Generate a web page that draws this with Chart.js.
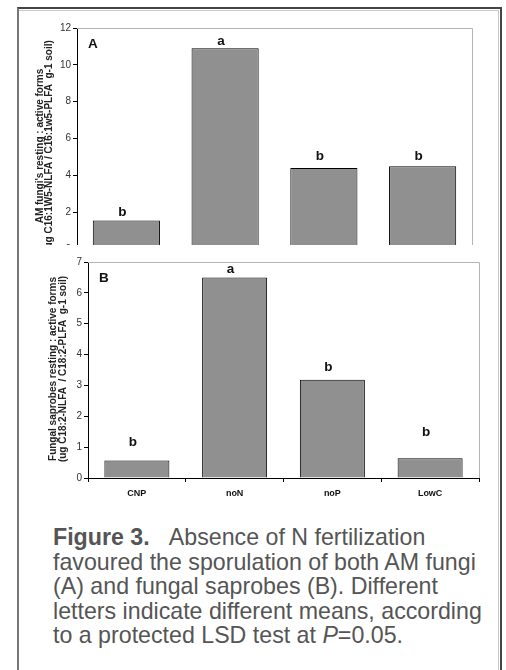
<!DOCTYPE html>
<html>
<head>
<meta charset="utf-8">
<script src="https://cdn.jsdelivr.net/npm/chart.js@4.4.1/dist/chart.umd.min.js"></script>
<style>
  html, body { margin: 0; padding: 0; background: #fff; }
  #page { position: relative; width: 506px; height: 670px; overflow: hidden; background: #fff; font-family: 'Liberation Sans', Arial, sans-serif; }
  #frame { position: absolute; z-index: 5; left: 17px; top: 7px; width: 481px; height: 680px; border-top: 2px solid #444; border-right: 2px solid #444; border-left: 2px solid #777; pointer-events: none; }
  #frameInner { position: absolute; left: 0; top: 1px; right: 1px; bottom: 0; border-top: 1px solid #c8c8c8; border-right: 1px solid #c8c8c8; }
  #wrapA { position: absolute; left: 0; top: 0; width: 506px; height: 245px; overflow: hidden; }
  #wrapB { position: absolute; left: 0; top: 245px; width: 506px; height: 265px; background: #fff; }
  #caption { position: absolute; left: 53px; top: 525px; width: 442px; font-size: 23.2px; line-height: 24.5px; color: #555; }
  #caption b { font-weight: bold; margin-right: 14px; }
</style>
</head>
<body>
<div id="page">
  <div id="frame"><div id="frameInner"></div></div>
  <div id="wrapA"><canvas id="chartA" width="506" height="279"></canvas></div>
  <div id="wrapB"><canvas id="chartB" width="506" height="265"></canvas></div>
  <div id="caption"><b>Figure 3.</b> Absence of N fertilization favoured the sporulation of both AM fungi (A) and fungal saprobes (B). Different letters indicate different means, according to a protected LSD test at <i>P</i>=0.05.</div>
</div>
<script>
// Datos
const treatments = ['CNP', 'noN', 'noP', 'LowC'];
const amFungiRatio = [1.55, 10.9, 4.4, 4.5];
const saprobesRatio = [0.57, 6.5, 3.18, 0.64];
const lettersA = ['b', 'a', 'b', 'b'];
const lettersB = ['b', 'a', 'b', 'b'];
const letterPosA = [1.8, 11.05, 4.85, 4.85];
const letterPosB = [1.03, 6.65, 3.48, 1.35];

const fontFamily = "'Liberation Sans', Arial, sans-serif";
const barColor = '#909090';

// Letras sobre las barras, etiqueta del panel y título del eje Y
const lettersPlugin = {
    id: 'letters',
    afterDatasetsDraw(chart, args, opts) {
        const ctx = chart.ctx;
        const meta = chart.getDatasetMeta(0);
        const y = chart.scales.y;
        ctx.save();
        ctx.fillStyle = '#111';
        ctx.font = 'bold 13.5px ' + fontFamily;
        ctx.textAlign = 'center';
        ctx.textBaseline = 'alphabetic';
        meta.data.forEach((bar, i) => {
            ctx.fillText(opts.letters[i], bar.x - 4, y.getPixelForValue(opts.positions[i]));
        });
        ctx.textAlign = 'left';
        ctx.textBaseline = 'top';
        ctx.fillText(opts.panel, chart.chartArea.left + opts.panelDx, chart.chartArea.top + opts.panelDy);

        // título rotado
        ctx.fillStyle = '#222';
        ctx.font = 'bold 10px ' + fontFamily;
        ctx.textAlign = 'center';
        ctx.textBaseline = 'middle';
        opts.title.forEach((line, i) => {
            ctx.save();
            ctx.translate(opts.titleX[i], opts.titleCy);
            ctx.rotate(-Math.PI / 2);
            ctx.fillText(line, 0, 0);
            ctx.restore();
        });
        ctx.restore();
    }
};

// Borde superior y derecho del área de trazado
const plotBorder = {
    id: 'plotBorder',
    beforeDatasetsDraw(chart) {
        const { ctx, chartArea: a } = chart;
        ctx.save();
        ctx.strokeStyle = '#b4b4b4';
        ctx.lineWidth = 1;
        ctx.beginPath();
        ctx.moveTo(a.left, a.top + 0.5);
        ctx.lineTo(a.right + 0.5, a.top + 0.5);
        ctx.lineTo(a.right + 0.5, a.bottom);
        ctx.stroke();
        ctx.restore();
    }
};

function makeChart(id, values, opts) {
    const ctx = document.getElementById(id).getContext('2d');
    return new Chart(ctx, {
        type: 'bar',
        data: {
            labels: treatments,
            datasets: [{
                data: values,
                backgroundColor: barColor,
                borderColor: '#000',
                borderWidth: 1,
                barPercentage: opts.barPct,
                categoryPercentage: 1
            }]
        },
        options: {
            responsive: false,
            animation: false,
            layout: { padding: opts.padding },
            scales: {
                x: {
                    afterFit: s => { s.height = opts.xHeight; },
                    grid: {
                        display: true,
                        offset: true,
                        drawOnChartArea: false,
                        tickLength: 4,
                        color: '#000'
                    },
                    border: { color: '#000', width: 1 },
                    ticks: {
                        color: '#111',
                        font: { family: fontFamily, size: 9, weight: 'bold' },
                        padding: 6
                    }
                },
                y: {
                    min: 0,
                    max: opts.max,
                    afterFit: s => { s.width = opts.yWidth; },
                    grid: {
                        display: true,
                        drawOnChartArea: false,
                        tickLength: 4,
                        color: '#000'
                    },
                    border: { color: '#000', width: 1 },
                    ticks: {
                        stepSize: opts.step,
                        color: '#333',
                        font: { family: fontFamily, size: 10 },
                        padding: 2
                    }
                }
            },
            plugins: {
                legend: { display: false },
                tooltip: { enabled: false },
                letters: {
                    letters: opts.letters,
                    positions: opts.letterPos,
                    panel: opts.panel,
                    panelDx: 11,
                    panelDy: 10,
                    title: opts.yTitle,
                    titleX: opts.titleX,
                    titleCy: opts.titleCy
                }
            }
        },
        plugins: [plotBorder, lettersPlugin]
    });
}

makeChart('chartA', amFungiRatio, {
    max: 12, step: 2, barPct: 0.68,
    yWidth: 77, xHeight: 30,
    padding: { left: 0, right: 34, top: 28, bottom: 0 },
    titleX: [40, 49], titleCy: 146,
    yTitle: ["AM fungi's resting : active forms", '(ug C16:1W5-NLFA / C16:1w5-PLFA  g-1 soil)'],
    letters: lettersA, letterPos: letterPosA, panel: 'A'
});

makeChart('chartB', saprobesRatio, {
    max: 7, step: 1, barPct: 0.665,
    yWidth: 88, xHeight: 32,
    padding: { left: 0, right: 27, top: 17, bottom: 0 },
    titleX: [53, 63], titleCy: 124,
    yTitle: ['Fungal saprobes resting : active forms', '(ug C18:2-NLFA  / C18:2-PLFA  g-1 soil)'],
    letters: lettersB, letterPos: letterPosB, panel: 'B'
});
</script>
</body>
</html>
